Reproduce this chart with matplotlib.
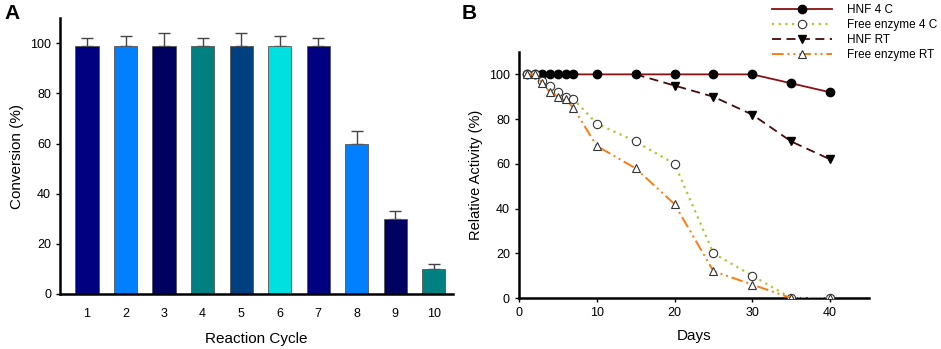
import matplotlib.pyplot as plt
from matplotlib.lines import Line2D

plt.rcParams['font.family'] = ['Liberation Sans', 'DejaVu Sans']

# panel A: reuse cycles
cycles = [1, 2, 3, 4, 5, 6, 7, 8, 9, 10]
conversion = [99, 99, 99, 99, 99, 99, 99, 60, 30, 10]
conversion_err = [3, 4, 5, 3, 5, 4, 3, 5, 3, 2]
bar_colors = ['#000080', '#0080ff', '#000060', '#008080', '#004080',
              '#00e0e0', '#000080', '#0080ff', '#000060', '#008080']

# panel B: storage stability
days = [1, 2, 3, 4, 5, 6, 7, 10, 15, 20, 25, 30, 35, 40]
hnf_4c = [100, 100, 100, 100, 100, 100, 100, 100, 100, 100, 100, 100, 96, 92]
free_4c = [100, 100, 97, 95, 92, 90, 89, 78, 70, 60, 20, 10, 0, 0]
free_rt = [100, 100, 96, 92, 90, 89, 85, 68, 58, 42, 12, 6, 0, 0]
rt_days = [15, 20, 25, 30, 35, 40]
hnf_rt = [100, 95, 90, 82, 70, 62]


def main():
    fig = plt.figure(figsize=(9.41, 3.49), dpi=100)
    fig.set_facecolor('white')

    # ---- A ----
    ax = fig.add_axes([0.0638, 0.1576, 0.4176, 0.7904])
    ax.bar(cycles, conversion, width=0.6, color=bar_colors,
           edgecolor='#555555', linewidth=0.6, zorder=2)
    ax.errorbar(cycles, conversion, yerr=[[0] * len(cycles), conversion_err],
                fmt='none', ecolor='#444444', elinewidth=1, capsize=4,
                capthick=1, zorder=1)
    ax.set_xlim(0.3, 10.5)
    ax.set_ylim(0, 110)
    ax.set_xticks(cycles)
    ax.set_yticks([0, 20, 40, 60, 80, 100])
    ax.tick_params(axis='x', length=0, labelsize=9, pad=10)
    ax.tick_params(axis='y', length=3, width=1, labelsize=9)
    for s in ['top', 'right']:
        ax.spines[s].set_visible(False)
    for s in ['left', 'bottom']:
        ax.spines[s].set_linewidth(1.8)
    ax.set_xlabel('Reaction Cycle', fontsize=11, labelpad=9)
    ax.set_ylabel('Conversion (%)', fontsize=11, labelpad=4)

    # ---- B ----
    bx = fig.add_axes([0.5515, 0.146, 0.372, 0.705])
    style_4c = dict(color='#8b1010', linestyle='-', linewidth=1.3, marker='o',
                    markersize=6, markerfacecolor='black',
                    markeredgecolor='black')
    style_f4 = dict(color='#a8cc30', linestyle=(0, (1, 2)), linewidth=1.6,
                    marker='o', markersize=6, markerfacecolor='white',
                    markeredgecolor='#333333', markeredgewidth=0.8)
    style_rt = dict(color='#4a0a0a', linestyle=(0, (5, 3)), linewidth=1.3,
                    marker='v', markersize=5.5, markerfacecolor='black',
                    markeredgecolor='black')
    style_frt = dict(color='#ff7a10', linestyle=(0, (6, 2, 1, 2, 1, 2)),
                     linewidth=1.4, marker='^', markersize=6,
                     markerfacecolor='white', markeredgecolor='#333333',
                     markeredgewidth=0.8)

    bx.plot(days, hnf_4c, zorder=3, **style_4c)
    bx.plot(days, free_4c, zorder=4, **style_f4)
    # first HNF RT point sits under the HNF 4 C marker
    bx.plot(rt_days, hnf_rt, zorder=2, markevery=slice(1, None), **style_rt)
    bx.plot(days, free_rt, zorder=4, **style_frt)

    bx.set_xlim(0, 45)
    bx.set_ylim(0, 110)
    bx.set_xticks([0, 10, 20, 30, 40])
    bx.set_yticks([0, 20, 40, 60, 80, 100])
    bx.tick_params(labelsize=9, length=3, width=1)
    for s in ['top', 'right']:
        bx.spines[s].set_visible(False)
    for s in ['left', 'bottom']:
        bx.spines[s].set_linewidth(1.8)
    bx.set_xlabel('Days', fontsize=11, labelpad=7)
    bx.set_ylabel('Relative Activity (%)', fontsize=10.5, labelpad=4)

    handles = [Line2D([], [], **style_4c), Line2D([], [], **style_f4),
               Line2D([], [], **style_rt), Line2D([], [], **style_frt)]
    labels = ['HNF 4 C', 'Free enzyme 4 C', 'HNF RT', 'Free enzyme RT']
    bx.legend(handles, labels, loc='upper left', bbox_to_anchor=(0.71, 1.215),
              frameon=False, fontsize=8.5, handlelength=5.1,
              labelspacing=0.25, handletextpad=1.27, borderaxespad=0)

    fig.text(0.005, 0.945, 'A', fontsize=15, fontweight='bold')
    fig.text(0.491, 0.945, 'B', fontsize=15, fontweight='bold')

    fig.savefig('out.png', dpi=100)


if __name__ == '__main__':
    main()
